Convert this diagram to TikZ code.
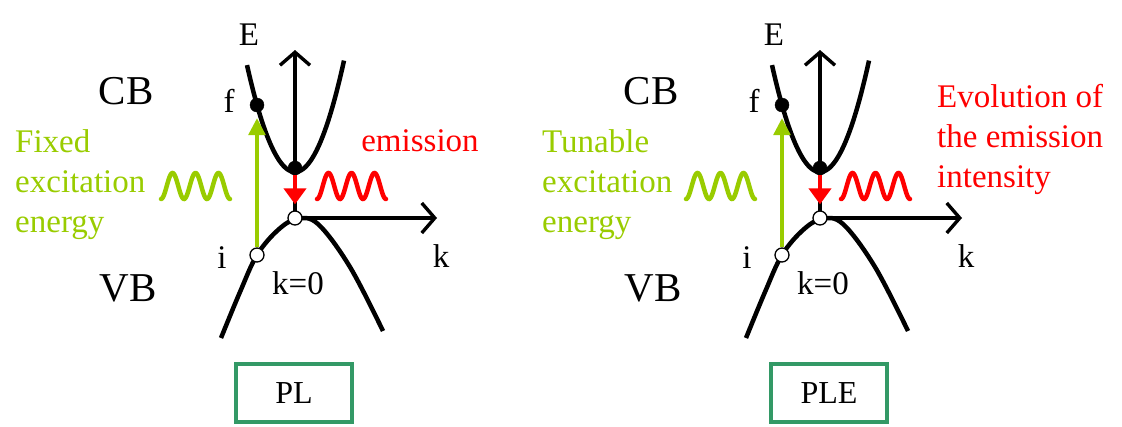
\documentclass[tikz,border=0pt]{standalone}
\usepackage{fontspec}
\setmainfont{Liberation Serif}
\usetikzlibrary{arrows.meta}
\definecolor{lgreen}{RGB}{153,204,0}
\definecolor{boxgreen}{RGB}{51,153,102}
\tikzset{
  band/.style={line width=4.5pt},
  axis/.style={line width=3.4pt,-{Straight Barb[length=13pt,width=30pt,line width=3.4pt]}},
  exc/.style={line width=3.2pt,lgreen,-{Triangle[length=17pt,width=17pt]},shorten >=6pt},
  emi/.style={line width=4.5pt,red,-{Triangle[length=16pt,width=22pt]},shorten >=6pt},
  filled/.style={circle,fill=black,draw=black,inner sep=0pt,minimum size=14pt},
  hollow/.style={circle,fill=white,draw=black,line width=1.3pt,inner sep=0pt,minimum size=14pt},
  lab/.style={font=\fontsize{33}{40}\selectfont,inner sep=0pt},
  big/.style={font=\fontsize{41}{44}\selectfont,inner sep=0pt},
  wave/.style={line width=4.5pt,line cap=round},
  modebox/.style={draw=boxgreen,line width=4.5pt,minimum width=116pt,minimum height=58pt,font=\fontsize{32}{40}\selectfont}
}
\newcommand{\bandpanel}[2]{%
  \begin{scope}[xshift=#2pt]
  \coordinate (#1o) at (295,218);
  \coordinate (#1Etop) at (295,50);
  \coordinate (#1kend) at (437,218);
  \draw[band] plot[domain=247:344,samples=60] (\x,{172-0.0464*(\x-295)*(\x-295)});
  \draw[band] plot[smooth,tension=0.6] coordinates {(221,338) (240,292) (257,255) (278,230) (297,219) (318,224) (350,267) (383,331)};
  \draw[axis] (#1o) -- (#1Etop);
  \draw[axis] (#1o) -- (#1kend);
  \node[filled] (#1f) at (257,105) {};
  \node[filled] (#1cbm) at (295,168) {};
  \node[hollow] (#1vbm) at (295,218) {};
  \node[hollow] (#1i) at (257,255) {};
  \draw[exc] (#1i) -- (#1f);
  \draw[emi] (#1cbm.south) -- (#1vbm);
  \node[lab] (#1E) at (249,35) {E};
  \node[lab] (#1flab) at (229,101) {f};
  \node[lab] (#1ilab) at (222,258) {i};
  \node[lab] (#1k0) at (298,283) {k=0};
  \node[lab] (#1k) at (441,256) {k};
  \node[big] (#1CB) at (126,91) {CB};
  \node[big] (#1VB) at (128,288) {VB};
  \end{scope}}
\newcommand{\squiggle}[3]{%
  \draw[wave,#3] plot[domain=0:3,samples=150] ({#1+\x*23},{#2+13*cos(\x*360)});}
\begin{document}
\begin{tikzpicture}[x=1pt,y=-1pt]
\useasboundingbox (0,0) rectangle (1122,426);
\bandpanel{L}{0}
\bandpanel{R}{525}
% waves
\squiggle{161}{186}{lgreen}
\squiggle{317}{186}{red}
\squiggle{686}{186}{lgreen}
\squiggle{841}{186}{red}
% texts
\node[lab,lgreen,anchor=west,align=left] (Ltxt) at (15,185) {Fixed\\excitation\\energy};
\node[lab,red] (Lemi) at (420,141) {emission};
\node[lab,lgreen,anchor=west,align=left] (Rtxt) at (542,185) {Tunable\\excitation\\energy};
\node[lab,red,anchor=west,align=left] (Revo) at (937,139) {Evolution of\\the emission\\intensity};
\node[modebox] (PL) at (294,393) {PL};
\node[modebox] (PLE) at (829,393) {PLE};
\end{tikzpicture}
\end{document}
